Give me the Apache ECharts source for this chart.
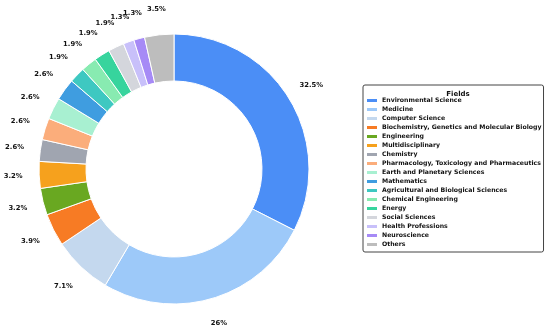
<!DOCTYPE html>
<html><head><meta charset="utf-8">
<script src="https://cdn.jsdelivr.net/npm/echarts@6/dist/echarts.min.js"></script>
<style>html,body{margin:0;padding:0;background:#fff}#c{width:550px;height:330px}</style>
</head><body><div id="c"></div>
<script>
const categories = ["Environmental Science","Medicine","Computer Science","Biochemistry, Genetics and Molecular Biology","Engineering","Multidisciplinary","Chemistry","Pharmacology, Toxicology and Pharmaceutics","Earth and Planetary Sciences","Mathematics","Agricultural and Biological Sciences","Chemical Engineering","Energy","Social Sciences","Health Professions","Neuroscience","Others"];
const values = [32.5,26,7.1,3.9,3.2,3.2,2.6,2.6,2.6,2.6,1.9,1.9,1.9,1.9,1.3,1.3,3.5];
const labels = ["32.5%","26%","7.1%","3.9%","3.2%","3.2%","2.6%","2.6%","2.6%","2.6%","1.9%","1.9%","1.9%","1.9%","1.3%","1.3%","3.5%"];
const colors = ["#4b8ef6","#9dc9f9","#c4d8ee","#f77b24","#69a821","#f6a11d","#a0a5b0","#fbad7b","#a8f0d1","#3f9de0","#3ec8c1","#88ebb1","#37d49d","#d4d6dc","#c8c0fa","#a68af6","#bdbdbd"];

const chart = echarts.init(document.getElementById('c'), null, {renderer:'canvas'});
const data = categories.map((n,i)=>({name:n, value:values[i], itemStyle:{color:colors[i]}}));
const labelData = categories.map((n,i)=>({name:n, value:values[i], label:{formatter:labels[i]}}));
chart.setOption({
  animation:false,
  title:{text:'Fields', left:453, top:86, textAlign:'center',
    textStyle:{fontFamily:'DejaVu Sans', fontWeight:'bold', fontSize:7, color:'#111'}},
  legend:{orient:'vertical', left:363, top:85, data:categories,
    itemWidth:10, itemHeight:3, itemGap:0, itemTextGap:6, icon:'rect',
    itemStyle:{borderWidth:0},
    padding:[11,2,3,4], borderColor:'#444', borderWidth:1, borderRadius:2,
    selectedMode:false,
    textStyle:{fontFamily:'DejaVu Sans', fontWeight:'bold', fontSize:6.2, lineHeight:9, color:'#111'}},
  series:[
    {type:'pie', center:[174,169], radius:[88,135], startAngle:90, clockwise:true,
     label:{show:false}, labelLine:{show:false}, silent:true,
     itemStyle:{borderColor:'#fff', borderWidth:1}, data:data},
    {type:'pie', center:[174,169], radius:[148,168], startAngle:90, clockwise:true, silent:true,
     avoidLabelOverlap:false, labelLayout:{hideOverlap:false},
     itemStyle:{color:'rgba(0,0,0,0)'}, labelLine:{show:false},
     label:{show:true, position:'inside', fontFamily:'DejaVu Sans', fontWeight:'bold', fontSize:6.8, color:'#111'},
     data:labelData}
  ]
});
</script></body></html>
